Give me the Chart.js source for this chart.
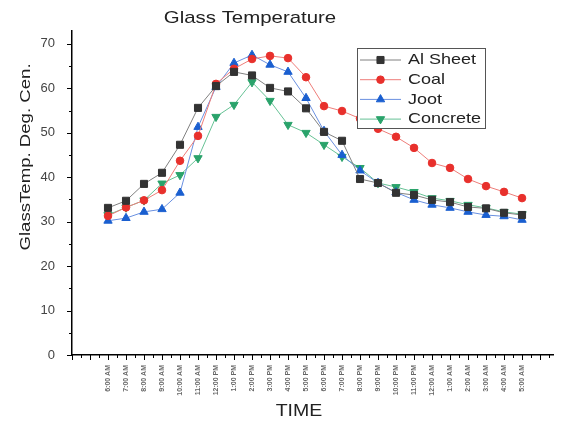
<!DOCTYPE html>
<html>
<head>
<meta charset="utf-8">
<title>Glass Temperature</title>
<script src="https://cdn.jsdelivr.net/npm/chart.js@4/dist/chart.umd.min.js"></script>
<style>
  html, body { margin: 0; padding: 0; background: #fff; }
  #wrap { width: 563px; height: 426px; position: relative; }
  canvas { display: block; }
</style>
</head>
<body>
<div id="wrap"><canvas id="chart" width="563" height="426"></canvas></div>
<script>
// Hourly readings, 6 AM through 5 AM the next morning
const timeLabels = [
  '6:00 AM', '7:00 AM', '8:00 AM', '9:00 AM', '10:00 AM', '11:00 AM',
  '12:00 PM', '1:00 PM', '2:00 PM', '3:00 PM', '4:00 PM', '5:00 PM',
  '6:00 PM', '7:00 PM', '8:00 PM', '9:00 PM', '10:00 PM', '11:00 PM',
  '12:00 AM', '1:00 AM', '2:00 AM', '3:00 AM', '4:00 AM', '5:00 AM'
];

// Glass temperature (deg C) under each covering
const alSheet  = [33.1, 34.7, 38.5, 41.0, 47.3, 55.6, 60.5, 63.7, 62.9, 60.1, 59.3, 55.5,
                  50.2, 48.2, 39.6, 38.7, 36.5, 36.0, 34.9, 34.4, 33.3, 33.0, 32.0, 31.5];
const coal     = [31.3, 33.2, 34.8, 37.1, 43.7, 49.3, 61.0, 64.4, 66.6, 67.3, 66.8, 62.5,
                  56.0, 54.9, 53.2, 50.9, 49.1, 46.6, 43.2, 42.1, 39.6, 38.0, 36.7, 35.3];
const joot     = [30.2, 30.8, 32.2, 32.8, 36.5, 51.3, 60.3, 65.7, 67.5, 65.3, 63.7, 57.8,
                  50.4, 45.0, 41.5, 38.7, 36.6, 34.9, 33.8, 33.1, 32.2, 31.5, 31.2, 30.4];
const concrete = [31.5, 33.2, 34.8, 38.6, 40.5, 44.3, 53.6, 56.3, 61.4, 57.2, 51.8, 50.0,
                  47.3, 44.6, 42.1, 38.7, 37.8, 36.7, 35.3, 34.7, 33.8, 33.1, 32.2, 31.7];

const seriesNames = ['Al Sheet', 'Coal', 'Joot', 'Concrete'];
const yTickValues = [0, 10, 20, 30, 40, 50, 60, 70];

const FONT = '"Liberation Sans", Arial, Helvetica, sans-serif';

const styles = [
  { marker: '#333333', line: '#808080', pointStyle: 'rect',     rotation: 0,   radius: 5.0 },
  { marker: '#e8302c', line: '#ee7d79', pointStyle: 'circle',   rotation: 0,   radius: 3.8 },
  { marker: '#1a5fd0', line: '#6a90e0', pointStyle: 'triangle', rotation: 0,   radius: 4.8 },
  { marker: '#2aa36b', line: '#66c295', pointStyle: 'triangle', rotation: 180, radius: 4.8 }
];
const seriesValues = [alSheet, coal, joot, concrete];

const datasets = seriesValues.map((vals, k) => ({
  label: seriesNames[k],
  data: vals.map((v, i) => ({ x: i, y: v })),
  borderColor: styles[k].line,
  backgroundColor: styles[k].marker,
  pointBackgroundColor: styles[k].marker,
  pointBorderColor: styles[k].marker,
  pointStyle: styles[k].pointStyle,
  pointRotation: styles[k].rotation,
  pointRadius: styles[k].radius,
  pointBorderWidth: 1,
  borderWidth: 1,
  tension: 0
}));

// Text drawn with a slight horizontal stretch
function wideText(ctx, text, x, y, size, sx, angle, weight) {
  ctx.save();
  ctx.translate(x, y);
  if (angle) ctx.rotate(angle);
  ctx.scale(sx, 1);
  ctx.font = (weight || 'normal') + ' ' + size + 'px ' + FONT;
  ctx.fillStyle = '#222';
  ctx.textAlign = 'center';
  ctx.textBaseline = 'middle';
  ctx.fillText(text, 0, 0);
  ctx.restore();
}

function marker(ctx, st, x, y) {
  ctx.save();
  ctx.fillStyle = st.marker;
  ctx.strokeStyle = st.marker;
  ctx.lineWidth = 1;
  Chart.helpers.drawPoint(ctx, { pointStyle: st.pointStyle, rotation: st.rotation, radius: st.radius, borderWidth: 1 }, x, y);
  ctx.restore();
}

const decorations = {
  id: 'decorations',
  afterDraw(chart) {
    const ctx = chart.ctx;
    const xs = chart.scales.x, ys = chart.scales.y;
    const area = chart.chartArea;

    // tick marks: majors and minors on both axes, pointing outward
    ctx.save();
    ctx.strokeStyle = '#000';
    ctx.lineWidth = 1;
    for (let v = -2; v <= xs.max + 1e-6; v += 0.5) {
      const px = Math.round(xs.getPixelForValue(v)) + 0.5;
      const len = Number.isInteger(v) ? 5 : 3;
      ctx.beginPath();
      ctx.moveTo(px, area.bottom);
      ctx.lineTo(px, area.bottom + len);
      ctx.stroke();
    }
    for (let v = 0; v <= 70; v += 5) {
      const py = Math.round(ys.getPixelForValue(v)) + 0.5;
      const len = v % 10 === 0 ? 5 : 3;
      ctx.beginPath();
      ctx.moveTo(area.left, py);
      ctx.lineTo(area.left - len, py);
      ctx.stroke();
    }
    ctx.restore();

    // titles
    wideText(ctx, 'Glass Temperature', 250, 18, 17, 1.2, 0);
    wideText(ctx, 'GlassTemp. Deg. Cen.', 26, 157, 15, 1.24, -Math.PI / 2);
    wideText(ctx, 'TIME', 299, 412, 16, 1.22, 0);

    // legend box
    const bx = 357, by = 48, bw = 128, bh = 80;
    ctx.save();
    ctx.fillStyle = '#fff';
    ctx.fillRect(bx, by, bw, bh);
    ctx.strokeStyle = '#555';
    ctx.lineWidth = 1;
    ctx.strokeRect(bx + 0.5, by + 0.5, bw, bh);
    ctx.restore();
    chart.data.datasets.forEach((ds, k) => {
      const rowY = 60 + k * 19.7;
      ctx.save();
      ctx.strokeStyle = styles[k].line;
      ctx.lineWidth = 1;
      ctx.beginPath();
      ctx.moveTo(360, rowY);
      ctx.lineTo(401, rowY);
      ctx.stroke();
      ctx.restore();
      marker(ctx, styles[k], 380.5, rowY);
      ctx.save();
      ctx.translate(408, rowY);
      ctx.scale(1.2, 1);
      ctx.font = '15px ' + FONT;
      ctx.fillStyle = '#222';
      ctx.textAlign = 'left';
      ctx.textBaseline = 'middle';
      ctx.fillText(ds.label, 0, 0);
      ctx.restore();
    });
  }
};

new Chart(document.getElementById('chart').getContext('2d'), {
  type: 'line',
  data: { datasets },
  options: {
    responsive: false,
    animation: false,
    devicePixelRatio: 1,
    layout: { padding: { top: 31, right: 10, left: 0, bottom: 0 } },
    plugins: {
      legend: { display: false },
      title: { display: false },
      tooltip: { enabled: false }
    },
    scales: {
      x: {
        type: 'linear',
        min: -2,
        max: 24.72,
        afterBuildTicks: s => { s.ticks = timeLabels.map((_, i) => ({ value: i })); },
        afterFit: s => { s.height = 71; },
        grid: { display: true, drawOnChartArea: false, drawTicks: false },
        border: { display: true, color: '#000', width: 1.5 },
        ticks: {
          autoSkip: false,
          minRotation: 90,
          maxRotation: 90,
          padding: 10,
          color: '#666',
          font: { size: 7, family: FONT, weight: 'bold' },
          callback: v => (timeLabels[v] !== undefined ? timeLabels[v] : '')
        }
      },
      y: {
        min: 0,
        max: 72.9,
        afterBuildTicks: s => { s.ticks = yTickValues.map(v => ({ value: v })); },
        afterFit: s => { s.width = 72; },
        grid: { display: true, drawOnChartArea: false, drawTicks: false },
        border: { display: true, color: '#000', width: 1.5 },
        ticks: {
          padding: 17,
          color: '#444',
          font: { size: 13, family: FONT }
        }
      }
    }
  },
  plugins: [decorations]
});
</script>
</body>
</html>
